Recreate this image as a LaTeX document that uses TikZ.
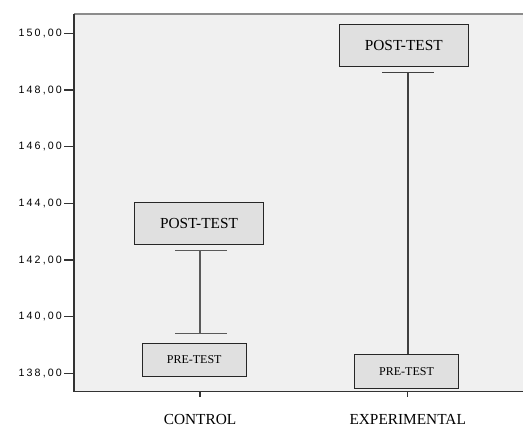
\documentclass[tikz,border=0pt]{standalone}
\usepackage{fontspec}
\setmainfont{Liberation Serif}
\newfontfamily\axisfont[LetterSpace=20]{Liberation Sans}
\definecolor{plotbg}{HTML}{F0F0F0}
\definecolor{boxfill}{HTML}{E0E0E0}
\definecolor{whisk}{HTML}{5A5A5A}
\begin{document}
\begin{tikzpicture}[x=0.75pt,y=-0.75pt,
		meanbox/.style={draw=black!85,fill=boxfill,line width=0.6pt,inner sep=0pt},
		postbox/.style={meanbox,minimum width=96.6pt,minimum height=31.3pt,font=\fontsize{11.5}{13}\selectfont},
		prebox/.style={meanbox,minimum width=78pt,minimum height=24.8pt,font=\fontsize{9}{11}\selectfont},
		whisker/.style={whisk,line width=1.4pt},
		catlabel/.style={font=\fontsize{11.5}{13}\selectfont}]
		\useasboundingbox (0,0) rectangle (523,427);
		% plot area and axes
		\fill[plotbg] (74,14) rectangle (523,391.5);
		\draw[black!45,line width=1pt] (74,14) -- (523,14);
		\draw[black!80,line width=1pt] (74,14) -- (74,391.5) -- (523,391.5);
		\foreach \v in {138,140,...,150}{
			\draw[black!80,line width=0.9pt] (64,{373.3-(\v-138)*28.33}) -- (74,{373.3-(\v-138)*28.33});
			\node[anchor=east,inner sep=1pt,font=\axisfont\fontsize{8}{9}\selectfont] (y\v) at (63.5,{373.3-(\v-138)*28.33}) {\v,00};
		}
		\draw[black!80,line width=1pt] (200,391.5) -- (200,397);
		\draw[black!80,line width=1pt] (407.7,391.5) -- (407.7,397);
		
		% CONTROL
		\coordinate (ctop) at (200,250.7);
		\coordinate (cbot) at (200,333.3);
		\draw[whisker] (ctop) -- (cbot);
		\draw[whisker,line width=1pt] ([xshift=-25pt*0.75]ctop) -- ([xshift=26.7pt*0.75]ctop);
		\draw[whisker,line width=1pt] ([xshift=-25pt*0.75]cbot) -- ([xshift=26.7pt*0.75]cbot);
		\node[postbox] (cpost) at (199,223.2) {POST-TEST};
		\node[prebox] (cpre) at (194.2,360) {PRE-TEST};
		\node[catlabel] (control) at (200,419) {CONTROL};
		
		% EXPERIMENTAL
		\coordinate (etop) at (407.7,72.3);
		\node[postbox] (epost) at (403.8,45.2) {POST-TEST};
		\node[prebox] (epre) at (406.5,371.4) {PRE-TEST};
		\draw[whisker,black!75] (etop) -- (etop |- epre.north);
		\draw[whisker,black!75,line width=1pt] ([xshift=-25.4pt*0.75]etop) -- ([xshift=26.3pt*0.75]etop);
		\node[catlabel] (experimental) at (407.7,419) {EXPERIMENTAL};
	\end{tikzpicture}
\end{document}
